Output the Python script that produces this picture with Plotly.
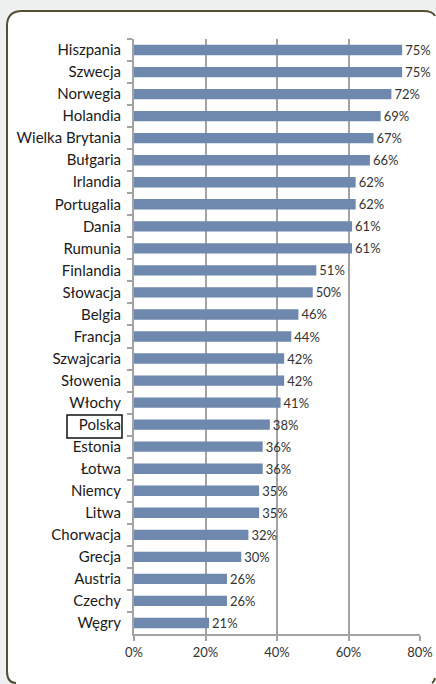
import plotly.graph_objects as go

countries = ["Hiszpania", "Szwecja", "Norwegia", "Holandia", "Wielka Brytania", "Bułgaria",
             "Irlandia", "Portugalia", "Dania", "Rumunia", "Finlandia", "Słowacja", "Belgia",
             "Francja", "Szwajcaria", "Słowenia", "Włochy", "Polska", "Estonia", "Łotwa",
             "Niemcy", "Litwa", "Chorwacja", "Grecja", "Austria", "Czechy", "Węgry"]
values = [75, 75, 72, 69, 67, 66, 62, 62, 61, 61, 51, 50, 46, 44, 42, 42, 41, 38, 36, 36,
          35, 35, 32, 30, 26, 26, 21]
x_ticks = [0, 20, 40, 60, 80]
x_tick_labels = ["0%", "20%", "40%", "60%", "80%"]

W, H = 436, 684
L, R, T, B = 134, 16, 39, 50
pw, ph = W - L - R, H - T - B

def px(x):
    return (x - L) / pw

def py(y):
    return (H - B - y) / ph

def P(x, y):
    return f"{px(x)},{py(y)}"

FONT = "Lato"
GRAY = "#a3a3a3"
FRAME = "#554f33"

fig = go.Figure()
fig.add_trace(go.Bar(
    x=values, y=countries, orientation="h",
    marker=dict(color="#6f88ad", line=dict(width=0)),
    width=0.47,
    text=[f"{v}%" for v in values], textposition="outside",
    textfont=dict(family=FONT, size=13, color="#333333"),
    constraintext="none",
    cliponaxis=False,
))

fill_path = (f"M {P(7,26)} Q {P(7,11)} {P(22,11)} L {P(423,11)} Q {P(433,11)} {P(436,17)} "
             f"L {P(436,684)} L {P(17,684)} Q {P(7,684)} {P(7,671)} Z")
stroke_path = (f"M {P(435,16)} Q {P(433,11)} {P(423,11)} L {P(22,11)} Q {P(7,11)} {P(7,26)} "
               f"L {P(7,671)} Q {P(7,683)} {P(16,683)}")
corner_br = f"M {P(435,678)} Q {P(434,682)} {P(432,683)}"
shapes = [
    dict(type="path", xref="paper", yref="paper", path=fill_path,
         fillcolor="white", line=dict(width=0), layer="below"),
    dict(type="path", xref="paper", yref="paper", path=stroke_path,
         line=dict(color=FRAME, width=2), layer="below"),
    dict(type="path", xref="paper", yref="paper", path=corner_br,
         line=dict(color=FRAME, width=2), layer="below"),
    dict(type="rect", xref="paper", yref="paper",
         x0=px(67), x1=px(122), y0=py(415), y1=py(438),
         line=dict(color="#111111", width=1.5)),
]

fig.update_layout(
    template="none",
    width=W, height=H,
    margin=dict(l=L, r=R, t=T, b=B, pad=0, autoexpand=False),
    paper_bgcolor="#eff1f0", plot_bgcolor="white",
    showlegend=False, shapes=shapes,
    xaxis=dict(range=[0, 80], tickvals=x_ticks, ticktext=x_tick_labels, automargin=False,
               showgrid=True, gridcolor=GRAY, gridwidth=2,
               showline=True, linecolor=GRAY, linewidth=2,
               ticks="outside", ticklen=5, tickcolor=GRAY, tickwidth=2,
               tickfont=dict(family=FONT, size=13, color="#333333"),
               zeroline=False, fixedrange=True),
    yaxis=dict(autorange="reversed", categoryorder="array", categoryarray=countries,
               automargin=False,
               showline=True, linecolor=GRAY, linewidth=2,
               ticks="outside", ticklen=5, tickcolor=GRAY, tickwidth=2, tickson="boundaries",
               tickfont=dict(family=FONT, size=15, color="#1a1a1a"),
               ticklabelstandoff=8, showgrid=False, zeroline=False, fixedrange=True),
    bargap=0.53,
)

post = ("document.documentElement.style.overflow='hidden';"
        "document.body.style.margin='0';document.body.style.overflow='hidden';"
        "document.querySelectorAll('svg.main-svg').forEach(function(s){s.style.overflow='hidden';});")
fig.write_html("out.html", config={"displayModeBar": False}, post_script=post)
